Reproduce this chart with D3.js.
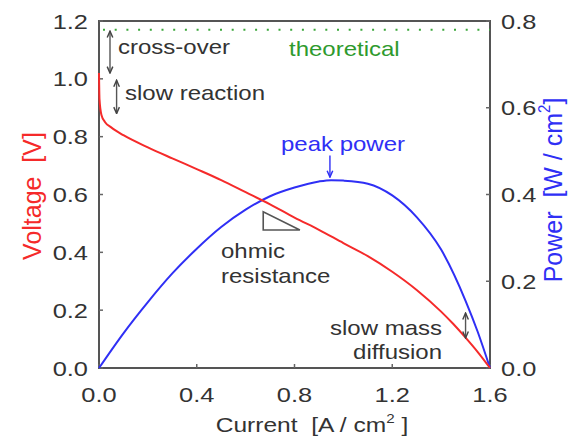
<!DOCTYPE html>
<html>
<head>
<meta charset="utf-8">
<script src="https://cdn.jsdelivr.net/npm/d3@7"></script>
<style>
  body { margin: 0; background: #fff; }
  text { font-family: "Liberation Sans", Arial, sans-serif; white-space: pre; }
</style>
</head>
<body>
<div id="chart"></div>
<script>
// polarization curve
const currentV = [0, 0.002, 0.01, 0.025, 0.05, 0.1, 0.2, 0.3, 0.4, 0.5, 0.6, 0.7, 0.8, 0.9, 1.0, 1.1, 1.2, 1.3, 1.4, 1.45, 1.5, 1.55, 1.6];
const voltage  = [1.02, 0.93, 0.875, 0.85, 0.832, 0.805, 0.763, 0.725, 0.688, 0.65, 0.608, 0.566, 0.52, 0.478, 0.432, 0.387, 0.333, 0.27, 0.195, 0.152, 0.105, 0.055, 0.0];

// power density curve
const currentP = [0, 0.1, 0.2, 0.3, 0.4, 0.5, 0.6, 0.7, 0.8, 0.9, 0.95, 1.0, 1.1, 1.2, 1.3, 1.4, 1.5, 1.55, 1.6];
const power    = [0, 0.08, 0.152, 0.218, 0.275, 0.325, 0.365, 0.396, 0.416, 0.43, 0.433, 0.432, 0.425, 0.398, 0.348, 0.273, 0.155, 0.083, 0];

const theoretical = 1.17;

const xTicks = [0, 0.4, 0.8, 1.2, 1.6];
const vTicks = [0, 0.2, 0.4, 0.6, 0.8, 1.0, 1.2];
const pTicks = [0, 0.2, 0.4, 0.6, 0.8];

const W = 568, H = 439;
const mLeft = 99, mRight = 490, mTop = 21, mBottom = 368;
const SX = 1.2; // text in the picture is a bit wide

const svg = d3.select("#chart").append("svg")
  .attr("width", W).attr("height", H);

const x = d3.scaleLinear().domain([0, 1.6]).range([mLeft, mRight]);
const yV = d3.scaleLinear().domain([0, 1.2]).range([mBottom, mTop]);
const yP = d3.scaleLinear().domain([0, 0.8]).range([mBottom, mTop]);

let txt = (px, py, s, o) => {
  o = o || {};
  let t = svg.append("text")
    .attr("transform", "translate(" + px + "," + py + ") scale(" + (o.sx || SX) + ",1)" + (o.rot ? " rotate(-90)" : ""))
    .attr("font-size", o.size || 20)
    .attr("fill", o.color || "#333")
    .attr("text-anchor", o.anchor || "start");
  t.text(s);
  return t;
}

// frame
svg.append("rect")
  .attr("x", mLeft).attr("y", mTop)
  .attr("width", mRight - mLeft).attr("height", mBottom - mTop)
  .attr("fill", "none").attr("stroke", "#555").attr("stroke-width", 2);

// ticks (inside)
let tickStyle = sel => sel.attr("stroke", "#666").attr("stroke-width", 1.5);
let tickFont = {size: 20.5, sx: 1.24};
xTicks.forEach(d => {
  tickStyle(svg.append("line").attr("x1", x(d)).attr("x2", x(d)).attr("y1", mBottom).attr("y2", mBottom - 4));
  txt(x(d), mBottom + 34, d3.format(".1f")(d), Object.assign({anchor: "middle"}, tickFont));
});
vTicks.forEach(d => {
  tickStyle(svg.append("line").attr("x1", mLeft).attr("x2", mLeft + 4).attr("y1", yV(d)).attr("y2", yV(d)));
  txt(mLeft - 11, yV(d) + 7.5, d3.format(".1f")(d), Object.assign({anchor: "end"}, tickFont));
});
pTicks.forEach(d => {
  tickStyle(svg.append("line").attr("x1", mRight).attr("x2", mRight - 4).attr("y1", yP(d)).attr("y2", yP(d)));
  txt(mRight + 11, yP(d) + 7.5, d3.format(".1f")(d), tickFont);
});

// theoretical voltage
svg.append("line")
  .attr("x1", x(0) + 4).attr("x2", x(1.6))
  .attr("y1", yV(theoretical)).attr("y2", yV(theoretical))
  .attr("stroke", "#3aa63a").attr("stroke-width", 2)
  .attr("stroke-dasharray", "2,9.7");

// curves
let lineV = d3.line().x((d, i) => x(currentV[i])).y(d => yV(d)).curve(d3.curveMonotoneX);
let lineP = d3.line().x((d, i) => x(currentP[i])).y(d => yP(d)).curve(d3.curveMonotoneX);

svg.append("path").attr("d", lineP(power))
  .attr("fill", "none").attr("stroke", "#2f2ff5").attr("stroke-width", 2);
svg.append("path").attr("d", lineV(voltage))
  .attr("fill", "none").attr("stroke", "#f52a2a").attr("stroke-width", 2);

// arrows
let arrowhead = (id, color) => {
  svg.append("defs").append("marker")
    .attr("id", id).attr("viewBox", "0 0 10 10")
    .attr("refX", 9).attr("refY", 5)
    .attr("markerWidth", 8).attr("markerHeight", 8)
    .attr("markerUnits", "userSpaceOnUse")
    .attr("orient", "auto-start-reverse")
    .append("path").attr("d", "M1,1.5 L9,5 L1,8.5")
    .attr("fill", "none").attr("stroke", color).attr("stroke-width", 1.8);
}
arrowhead("ah", "#444");

let arrow = (x1, y1, x2, y2, both) => {
  let l = svg.append("line")
    .attr("x1", x1).attr("y1", y1).attr("x2", x2).attr("y2", y2)
    .attr("stroke", "#555").attr("stroke-width", 1.4)
    .attr("marker-end", "url(#ah)");
  if (both) l.attr("marker-start", "url(#ah)");
}

arrow(x(0.045), yV(1.165), x(0.045), yV(1.02), true);
arrow(x(0.072), yV(0.995), x(0.072), yV(0.88), true);
arrow(x(1.5), yV(0.19), x(1.5), yV(0.104), true);

// peak power arrow (blue)
arrowhead("ahb", "#2f2ff5");
svg.append("line")
  .attr("x1", x(0.945)).attr("x2", x(0.945))
  .attr("y1", yP(0.49)).attr("y2", yP(0.44))
  .attr("stroke", "#2f2ff5").attr("stroke-width", 1.4)
  .attr("marker-end", "url(#ahb)");

// ohmic triangle
svg.append("path")
  .attr("d", d3.line()([[x(0.672), yV(0.54)], [x(0.672), yV(0.477)], [x(0.822), yV(0.477)]]) + "Z")
  .attr("fill", "#fff").attr("stroke", "#555").attr("stroke-width", 1.6);

// annotations
txt(289, 56, "theoretical", {color: "#2e9a2e"});
txt(118, 54, "cross-over");
txt(125, 100, "slow reaction");
txt(343, 151, "peak power", {color: "#2f2ff5", anchor: "middle"});
txt(221, 258, "ohmic");
txt(221, 283, "resistance");
txt(442, 335, "slow mass", {anchor: "end"});
txt(442, 359, "diffusion", {anchor: "end"});

// axis titles
let xt = txt(312, 432, "Current  [A / cm", {anchor: "middle", size: 21, sx: 1.17});
xt.append("tspan").attr("font-size", 13).attr("dy", -9).text("2");
xt.append("tspan").attr("dy", 9).text(" ]");

let vt = txt(41, 196, "Voltage  [V]", {anchor: "middle", size: 25, color: "#f52a2a", rot: true, sx: 1.05});

let pt = txt(562, 190, "Power  [W / cm", {anchor: "middle", size: 25, color: "#2f2ff5", rot: true, sx: 1.05});
pt.append("tspan").attr("font-size", 15).attr("dy", -11).text("2");
pt.append("tspan").attr("dy", 11).text("]");
</script>
</body>
</html>
